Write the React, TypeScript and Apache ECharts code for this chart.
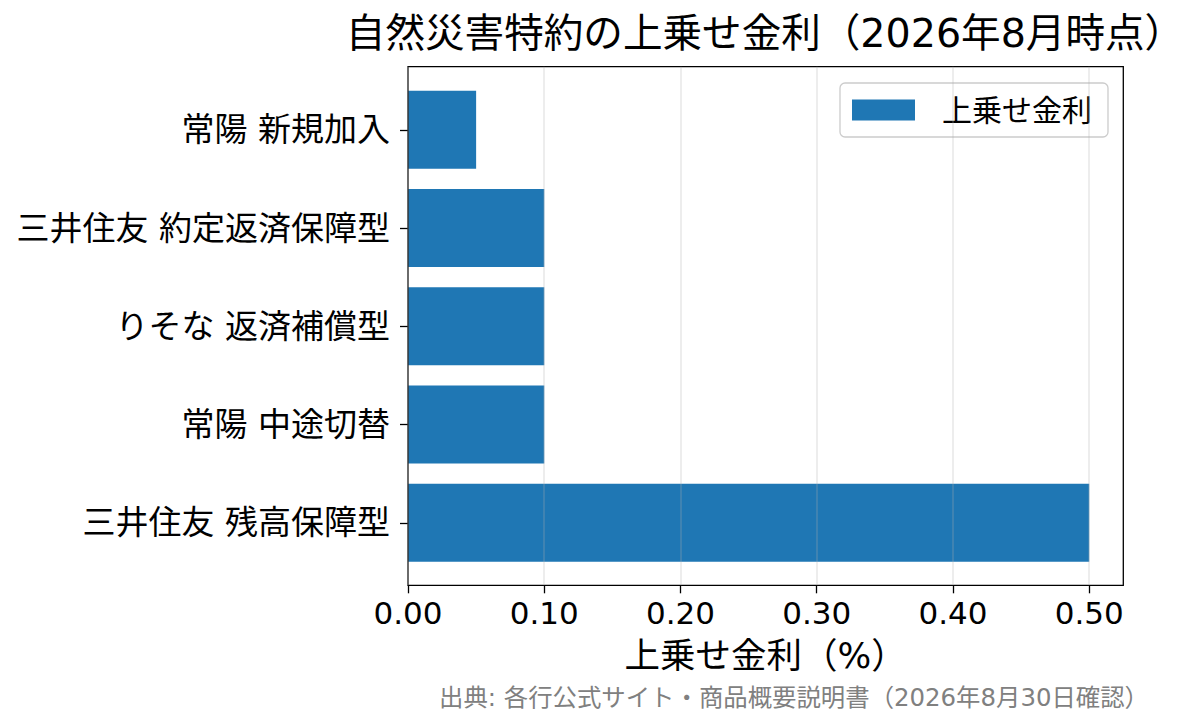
import React, { useEffect, useRef } from 'react';
import * as echarts from 'echarts';

// bottom to top, as in the picture
const categories = [
  '三井住友 残高保障型',
  '常陽 中途切替',
  'りそな 返済補償型',
  '三井住友 約定返済保障型',
  '常陽 新規加入',
];
const rates = [0.5, 0.1, 0.1, 0.1, 0.05];
const xTicks = [0, 0.1, 0.2, 0.3, 0.4, 0.5];

const titleText = '自然災害特約の上乗せ金利（2026年8月時点）';
const seriesName = '上乗せ金利';
const xName = '上乗せ金利（%）';
const sourceText = '出典: 各行公式サイト・商品概要説明書（2026年8月30日確認）';

// wide latin digits from DejaVu, kanji/kana fall back to the CJK face
const FONT = '"DejaVu Sans", "Noto Sans CJK JP", sans-serif';

const App: React.FC = () => {
  const chartRef = useRef<HTMLDivElement | null>(null);

  useEffect(() => {
    if (!chartRef.current) return;
    const chart = echarts.init(chartRef.current, undefined, { renderer: 'svg' });

    const frame = { left: 408, top: 66.7, width: 715.3, height: 518.6 };
    // matplotlib pads the bar extent by 5%, so the bars sit in a smaller inner band
    const inner = { left: 408, top: 80.7, width: 715.3, height: 491.2 };

    const option = {
      animation: false,
      textStyle: { fontFamily: FONT },
      title: {
        text: titleText,
        left: 760,
        top: 28,
        textAlign: 'center',
        textVerticalAlign: 'middle',
        textStyle: { fontSize: 39.6, fontWeight: 'normal', color: '#000', fontFamily: FONT },
      },
      legend: {
        left: 840,
        top: 83,
        padding: [12, 16, 12, 12],
        itemWidth: 63,
        itemHeight: 21,
        icon: 'rect',
        borderColor: '#cccccc',
        borderWidth: 1.3,
        borderRadius: 5,
        backgroundColor: 'rgba(255,255,255,0.8)',
        textStyle: { fontSize: 30, color: '#000', padding: [0, 0, 0, 22], fontFamily: FONT },
        data: [seriesName],
      },
      grid: [
        { ...frame, show: true, borderColor: '#000', borderWidth: 1.3, z: 10, containLabel: false },
        { ...inner, containLabel: false },
      ],
      xAxis: [
        {
          gridIndex: 0,
          type: 'value',
          min: 0,
          max: 0.525,
          interval: 0.1,
          z: 10,
          name: xName,
          nameLocation: 'middle',
          nameGap: 52,
          nameTextStyle: { fontSize: 35.5, lineHeight: 36, color: '#000', fontFamily: FONT },
          axisLine: { show: false },
          axisTick: {
            show: true,
            length: 8,
            lineStyle: { color: '#000', width: 1.3 },
            customValues: xTicks,
          },
          axisLabel: {
            fontSize: 31,
            lineHeight: 31,
            color: '#000',
            margin: 12,
            customValues: xTicks,
            formatter: (v: number) => v.toFixed(2),
          },
          splitLine: {
            show: true,
            lineStyle: { color: 'rgba(176,176,176,0.3)', width: 1.5 },
          },
        },
        {
          gridIndex: 1,
          type: 'value',
          min: 0,
          max: 0.525,
          show: false,
        },
      ],
      yAxis: [
        { gridIndex: 0, type: 'value', show: false },
        {
          gridIndex: 1,
          type: 'category',
          data: categories,
          axisLine: { show: false },
          axisTick: {
            show: true,
            alignWithLabel: true,
            length: 8,
            lineStyle: { color: '#000', width: 1.3 },
          },
          axisLabel: { fontSize: 33, color: '#000', margin: 18 },
          splitLine: { show: false },
        },
      ],
      series: [
        {
          name: seriesName,
          type: 'bar',
          xAxisIndex: 1,
          yAxisIndex: 1,
          data: rates,
          barWidth: 78,
          itemStyle: { color: '#1f77b4' },
        },
      ],
      graphic: [
        {
          type: 'text',
          x: 1149,
          y: 697,
          style: {
            text: sourceText,
            fontSize: 24.4,
            fontFamily: FONT,
            fill: '#808080',
            align: 'right',
            verticalAlign: 'middle',
          },
        },
      ],
    };

    chart.setOption(option);
    return () => {
      chart.dispose();
    };
  }, []);

  return (
    <div
      ref={chartRef}
      style={{ position: 'fixed', left: 0, top: 0, width: '1204px', height: '725px', background: '#fff' }}
    />
  );
};

export default App;
